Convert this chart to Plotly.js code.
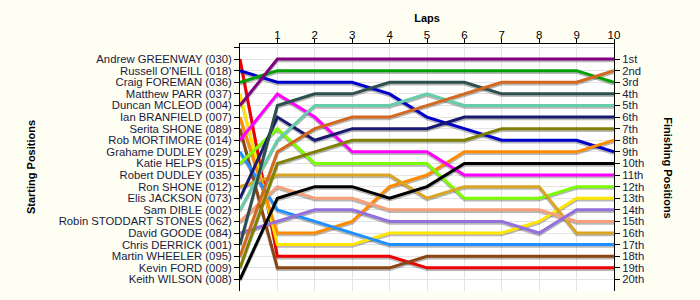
<!DOCTYPE html>
<html>
<head>
<meta charset="utf-8">
<script src="https://cdn.plot.ly/plotly-3.0.1.min.js"></script>
<style>
  html, body { margin: 0; padding: 0; background: #fefef3; }
  #chart { width: 700px; height: 300px; }
</style>
</head>
<body>
<div id="chart"></div>
<script>
// Drivers in starting order (position 1..20)
const drivers = [
  "Andrew GREENWAY (030)", "Russell O'NEILL (018)", "Craig FOREMAN (036)", "Matthew PARR (037)",
  "Duncan MCLEOD (004)", "Ian BRANFIELD (007)", "Serita SHONE (089)", "Rob MORTIMORE (014)",
  "Grahame DUDLEY (029)", "Katie HELPS (015)", "Robert DUDLEY (035)", "Ron SHONE (012)",
  "Elis JACKSON (073)", "Sam DIBLE (002)", "Robin STODDART STONES (062)", "David GOODE (084)",
  "Chris DERRICK (001)", "Martin WHEELER (095)", "Kevin FORD (009)", "Keith WILSON (008)"
];
const laps = [0, 1, 2, 3, 4, 5, 6, 7, 8, 9, 10];
const lapTicks = [1, 2, 3, 4, 5, 6, 7, 8, 9, 10];
const finishLabels = ["1st","2nd","3rd","4th","5th","6th","7th","8th","9th","10th",
  "11th","12th","13th","14th","15th","16th","17th","18th","19th","20th"];

// Position of each driver at laps 0..10
const posGreenway  = [1, 18, 18, 18, 18, 19, 19, 19, 19, 19, 19];
const posOneill    = [2, 3, 3, 3, 4, 6, 7, 8, 8, 8, 9];
const posForeman   = [3, 2, 2, 2, 2, 2, 2, 2, 2, 2, 3];
const posParr      = [4, 17, 17, 17, 16, 16, 16, 16, 15, 13, 13];
const posMcleod    = [5, 1, 1, 1, 1, 1, 1, 1, 1, 1, 1];
const posBranfield = [6, 16, 16, 15, 12, 11, 9, 9, 9, 9, 8];
const posSShone    = [7, 19, 19, 19, 19, 18, 18, 18, 18, 18, 18];
const posMortimore = [8, 4, 6, 9, 9, 9, 11, 11, 11, 11, 11];
const posGDudley   = [9, 14, 15, 16, 17, 17, 17, 17, 17, 17, 17];
const posHelps     = [10, 7, 10, 10, 10, 10, 13, 13, 13, 12, 12];
const posRDudley   = [11];
const posRShone    = [12, 11, 11, 11, 11, 13, 12, 12, 12, 16, 16];
const posJackson   = [13, 6, 8, 7, 7, 7, 6, 6, 6, 6, 6];
const posDible     = [14, 8, 5, 5, 5, 4, 5, 5, 5, 5, 5];
const posStoddart  = [15, 12, 13, 13, 14, 14, 14, 14, 14, 15, 15];
const posGoode     = [16, 15, 14, 14, 15, 15, 15, 15, 16, 14, 14];
const posDerrick   = [17, 5, 4, 4, 3, 3, 3, 4, 4, 4, 4];
const posWheeler   = [18, 9, 7, 6, 6, 5, 4, 3, 3, 3, 2];
const posFord      = [19, 10, 9, 8, 8, 8, 8, 7, 7, 7, 7];
const posWilson    = [20, 13, 12, 12, 13, 12, 10, 10, 10, 10, 10];

const positions = [posGreenway, posOneill, posForeman, posParr, posMcleod, posBranfield, posSShone,
  posMortimore, posGDudley, posHelps, posRDudley, posRShone, posJackson, posDible, posStoddart,
  posGoode, posDerrick, posWheeler, posFord, posWilson];

const colors = ["#ee0000", "#0000cd", "#00a000", "#ffe600", "#800080", "#ff8c00", "#8b4513",
  "#ff00ff", "#1e90ff", "#7cfc00", "#999999", "#daa520", "#191970", "#66cdaa", "#f4a07a",
  "#9370db", "#2f4f4f", "#d2691e", "#808000", "#000000"];

const traces = [];
// shadows
positions.forEach((p) => {
  if (p.length < 2) return;
  traces.push({
    x: laps.slice(0, p.length), y: p.map(v => v + 0.15), mode: 'lines',
    line: { color: 'rgba(0,0,0,0.28)', width: 3 }, hoverinfo: 'skip', showlegend: false
  });
});
positions.forEach((p, i) => {
  if (p.length < 2) return;
  traces.push({
    x: laps.slice(0, p.length), y: p, mode: 'lines', name: drivers[i],
    line: { color: colors[i], width: 3 }, showlegend: false
  });
});
// invisible trace to anchor the right axis
traces.push({ x: [0], y: [1], yaxis: 'y2', mode: 'markers', marker: { opacity: 0 }, hoverinfo: 'skip', showlegend: false });

const yTickVals = [0].concat(drivers.map((d, i) => i + 1));
const yTickText = [''].concat(drivers);

const tickFont = { family: 'Liberation Sans, Arial, sans-serif', size: 11.3, color: '#1a1a40' };

const layout = {
  width: 700, height: 300,
  paper_bgcolor: '#fefef3',
  plot_bgcolor: '#ffffff',
  margin: { l: 240, r: 86, t: 44, b: 9 },
  showlegend: false,
  xaxis: {
    side: 'top', range: [0, 10], tickvals: lapTicks, ticktext: lapTicks.map(String),
    ticks: 'outside', ticklen: 4, tickcolor: '#000', showline: true, linecolor: '#000', linewidth: 1,
    ticklabelstandoff: -5,
    showgrid: true, gridcolor: '#e4e4e4', zeroline: false,
    tickfont: { family: 'Liberation Sans, Arial, sans-serif', size: 11.5, color: '#000' },
    title: { text: '<b>Laps</b>', font: { family: 'Liberation Sans, Arial, sans-serif', size: 11, color: '#000' }, standoff: 4 }
  },
  yaxis: {
    range: [21, -0.3], tickvals: yTickVals, ticktext: yTickText,
    ticks: 'outside', ticklen: 5, tickcolor: '#000', showline: true, linecolor: '#000', linewidth: 1,
    showgrid: true, gridcolor: '#e4e4e4', zeroline: false, tickfont: tickFont
  },
  yaxis2: {
    overlaying: 'y', side: 'right', range: [21, -0.3],
    tickvals: finishLabels.map((d, i) => i + 1), ticktext: finishLabels,
    ticks: 'outside', ticklen: 5, tickcolor: '#000', showline: true, linecolor: '#000', linewidth: 1,
    showgrid: false, zeroline: false, tickfont: { family: 'Liberation Sans, Arial, sans-serif', size: 11.3, color: '#1a1a40' }
  },
  annotations: [
    { text: '<b>Starting Positions</b>', xref: 'paper', yref: 'paper', x: -0.56, y: 0.5,
      xanchor: 'center', yanchor: 'middle', textangle: -90, showarrow: false,
      font: { family: 'Liberation Sans, Arial, sans-serif', size: 11, color: '#000' } },
    { text: '<b>Finishing Positions</b>', xref: 'paper', yref: 'paper', x: 1.145, y: 0.5,
      xanchor: 'center', yanchor: 'middle', textangle: 90, showarrow: false,
      font: { family: 'Liberation Sans, Arial, sans-serif', size: 11, color: '#000' } }
  ]
};

Plotly.newPlot('chart', traces, layout, { displayModeBar: false, staticPlot: true });
</script>
</body>
</html>
